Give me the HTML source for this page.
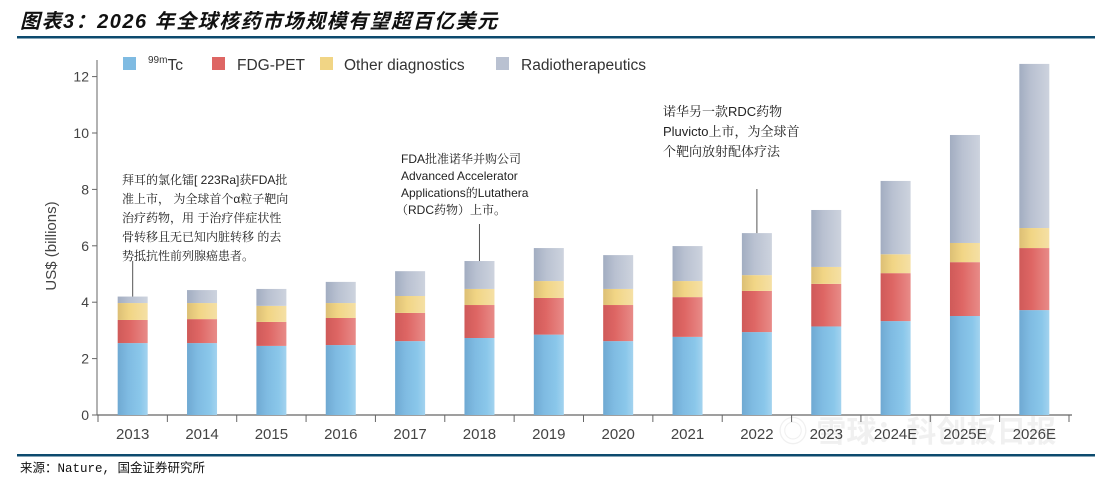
<!DOCTYPE html>
<html><head><meta charset="utf-8">
<style>
body{margin:0;width:1095px;height:481px;background:#fff;overflow:hidden;font-family:"Liberation Sans","Noto Sans CJK SC",sans-serif;}
svg{position:absolute;left:0;top:0}
</style></head>
<body>
<svg width="1095" height="481" viewBox="0 0 1095 481" xmlns="http://www.w3.org/2000/svg">
<defs>
<linearGradient id="gBlue" x1="0" x2="1"><stop offset="0" stop-color="#6fa9d2"/><stop offset="0.35" stop-color="#7fbbe2"/><stop offset="0.75" stop-color="#8ac7ea"/><stop offset="1" stop-color="#a3d3ef"/></linearGradient>
<linearGradient id="gRed" x1="0" x2="1"><stop offset="0" stop-color="#cf5a59"/><stop offset="0.4" stop-color="#de6664"/><stop offset="1" stop-color="#e88b88"/></linearGradient>
<linearGradient id="gYel" x1="0" x2="1"><stop offset="0" stop-color="#dcbf75"/><stop offset="0.4" stop-color="#f1d585"/><stop offset="1" stop-color="#f5e0a5"/></linearGradient>
<linearGradient id="gGry" x1="0" x2="1"><stop offset="0" stop-color="#a2adc1"/><stop offset="0.4" stop-color="#b9c1d1"/><stop offset="1" stop-color="#cdd3de"/></linearGradient>
</defs>
<text x="20" y="28" font-size="20" font-weight="bold" font-style="italic" letter-spacing="1.5" fill="#111" font-family="Liberation Sans,Noto Sans CJK SC,sans-serif">图表3：2026 年全球核药市场规模有望超百亿美元</text>
<rect x="17" y="36" width="1078" height="2.5" fill="#0c4a6e"/>
<rect x="17" y="454" width="1078" height="2.5" fill="#0c4a6e"/>
<text x="20" y="472" font-size="12.5" fill="#111" font-family="Liberation Mono,Noto Sans CJK SC,monospace">来源：Nature, 国金证券研究所</text>
<text x="778" y="442" font-size="30" font-weight="bold" fill="#000" fill-opacity="0.06">◎ 雪球：科创板日报</text>
<text transform="translate(56,246) rotate(-90)" text-anchor="middle" font-size="15" fill="#444">US$ (billions)</text>
<g id="legend">
<rect x="123" y="57" width="13" height="13" fill="#7fbbe2"/>
<text x="148" y="70" font-size="15.5" fill="#333"><tspan font-size="10" dy="-7">99m</tspan><tspan dy="7">Tc</tspan></text>
<rect x="212" y="57" width="13" height="13" fill="#de6664"/>
<text x="237" y="70" font-size="15.5" fill="#333">FDG-PET</text>
<rect x="320" y="57" width="13" height="13" fill="#f1d585"/>
<text x="344" y="70" font-size="15.5" fill="#333">Other diagnostics</text>
<rect x="496" y="57" width="13" height="13" fill="#b9c1d1"/>
<text x="521" y="70" font-size="15.5" fill="#333">Radiotherapeutics</text>
</g>
<g id="axes"></g>
<g id="bars"></g>
<g id="notes" font-size="12" fill="#222" font-family="Liberation Sans,Noto Serif CJK SC,serif">
<text x="122" y="184"><tspan x="122">拜耳的氯化镭[ 223Ra]获FDA批</tspan><tspan x="122" dy="19">准上市， 为全球首个α粒子靶向</tspan><tspan x="122" dy="19">治疗药物，用 于治疗伴症状性</tspan><tspan x="122" dy="19">骨转移且无已知内脏转移 的去</tspan><tspan x="122" dy="19">势抵抗性前列腺癌患者。</tspan></text>
<text x="401" y="163"><tspan x="401">FDA批准诺华并购公司</tspan><tspan x="401" dy="17">Advanced Accelerator</tspan><tspan x="401" dy="17">Applications的Lutathera</tspan><tspan x="396" dy="17">（RDC药物）上市。</tspan></text>
<text x="663" y="116" font-size="13"><tspan x="663">诺华另一款RDC药物</tspan><tspan x="663" dy="20">Pluvicto上市，为全球首</tspan><tspan x="663" dy="20">个靶向放射配体疗法</tspan></text>
</g>
</svg>
<script>
const years=["2013","2014","2015","2016","2017","2018","2019","2020","2021","2022","2023","2024E","2025E","2026E"];
const tc=[2.55,2.55,2.45,2.48,2.62,2.73,2.85,2.62,2.77,2.94,3.14,3.33,3.51,3.72];
const fdg=[0.82,0.85,0.85,0.96,1.0,1.17,1.3,1.28,1.41,1.46,1.51,1.7,1.91,2.2];
const other=[0.6,0.57,0.57,0.53,0.6,0.57,0.6,0.57,0.57,0.56,0.6,0.67,0.68,0.71];
const radio=[0.23,0.46,0.6,0.75,0.88,0.99,1.17,1.2,1.24,1.49,2.02,2.6,3.83,5.82];
const yTicks=[0,2,4,6,8,10,12];
const notes=[{i:0,top:261},{i:5,top:224},{i:9,top:189}];
const NS="http://www.w3.org/2000/svg";
const x0=97,x1=1072,y0=415,pxPerUnit=28.2,step=(x1-x0-4)/years.length,bw=30;
const X=i=>x0+1+step*(i+0.5);
const Y=v=>y0-v*pxPerUnit;
function mk(t,a,p){const e=document.createElementNS(NS,t);for(const k in a)e.setAttribute(k,a[k]);p.appendChild(e);return e;}
const ax=document.getElementById('axes');
let l=mk('line',{x1:x0,y1:60,x2:x0,y2:y0,stroke:'#666','stroke-width':1},ax);


l=mk('line',{x1:x0,y1:y0,x2:x1,y2:y0,stroke:'#666','stroke-width':1.2},ax);


yTicks.forEach(v=>{
  const t=mk('line',{x1:x0-5,y1:Y(v),x2:x0,y2:Y(v),stroke:'#666'},ax);
  
  
  const tx=mk('text',{x:x0-8,y:Y(v)+5,'text-anchor':'end','font-size':14,fill:'#444'},ax);
  tx.textContent=v;
  
  
});
for(let i=0;i<=years.length;i++){
  const xb=x0+1+step*i;
  const t=mk('line',{x1:xb,y1:y0,x2:xb,y2:y0+7,stroke:'#666'},ax);
  
  
}
years.forEach((yr,i)=>{
  const tx=mk('text',{x:X(i),y:y0+24,'text-anchor':'middle','font-size':15,fill:'#444'},ax);
  tx.textContent=yr;
  
  
});
const bars=document.getElementById('bars');
const series=[[tc,'url(#gBlue)','tc'],[fdg,'url(#gRed)','fdg'],[other,'url(#gYel)','other'],[radio,'url(#gGry)','radio']];
years.forEach((yr,i)=>{
  let base=0;
  series.forEach(([arr,fill,nm])=>{
    const v=arr[i];
    const r=mk('rect',{x:X(i)-bw/2,y:Y(base+v),width:bw,height:v*pxPerUnit,fill:fill},bars);
    
    
    base+=v;
  });
});
notes.forEach(n=>{
  const tot=tc[n.i]+fdg[n.i]+other[n.i]+radio[n.i];
  const c=mk('line',{x1:X(n.i),y1:Y(tot),x2:X(n.i),y2:n.top,stroke:'#555','stroke-width':1},bars);
  
  
});
</script>
</body></html>
